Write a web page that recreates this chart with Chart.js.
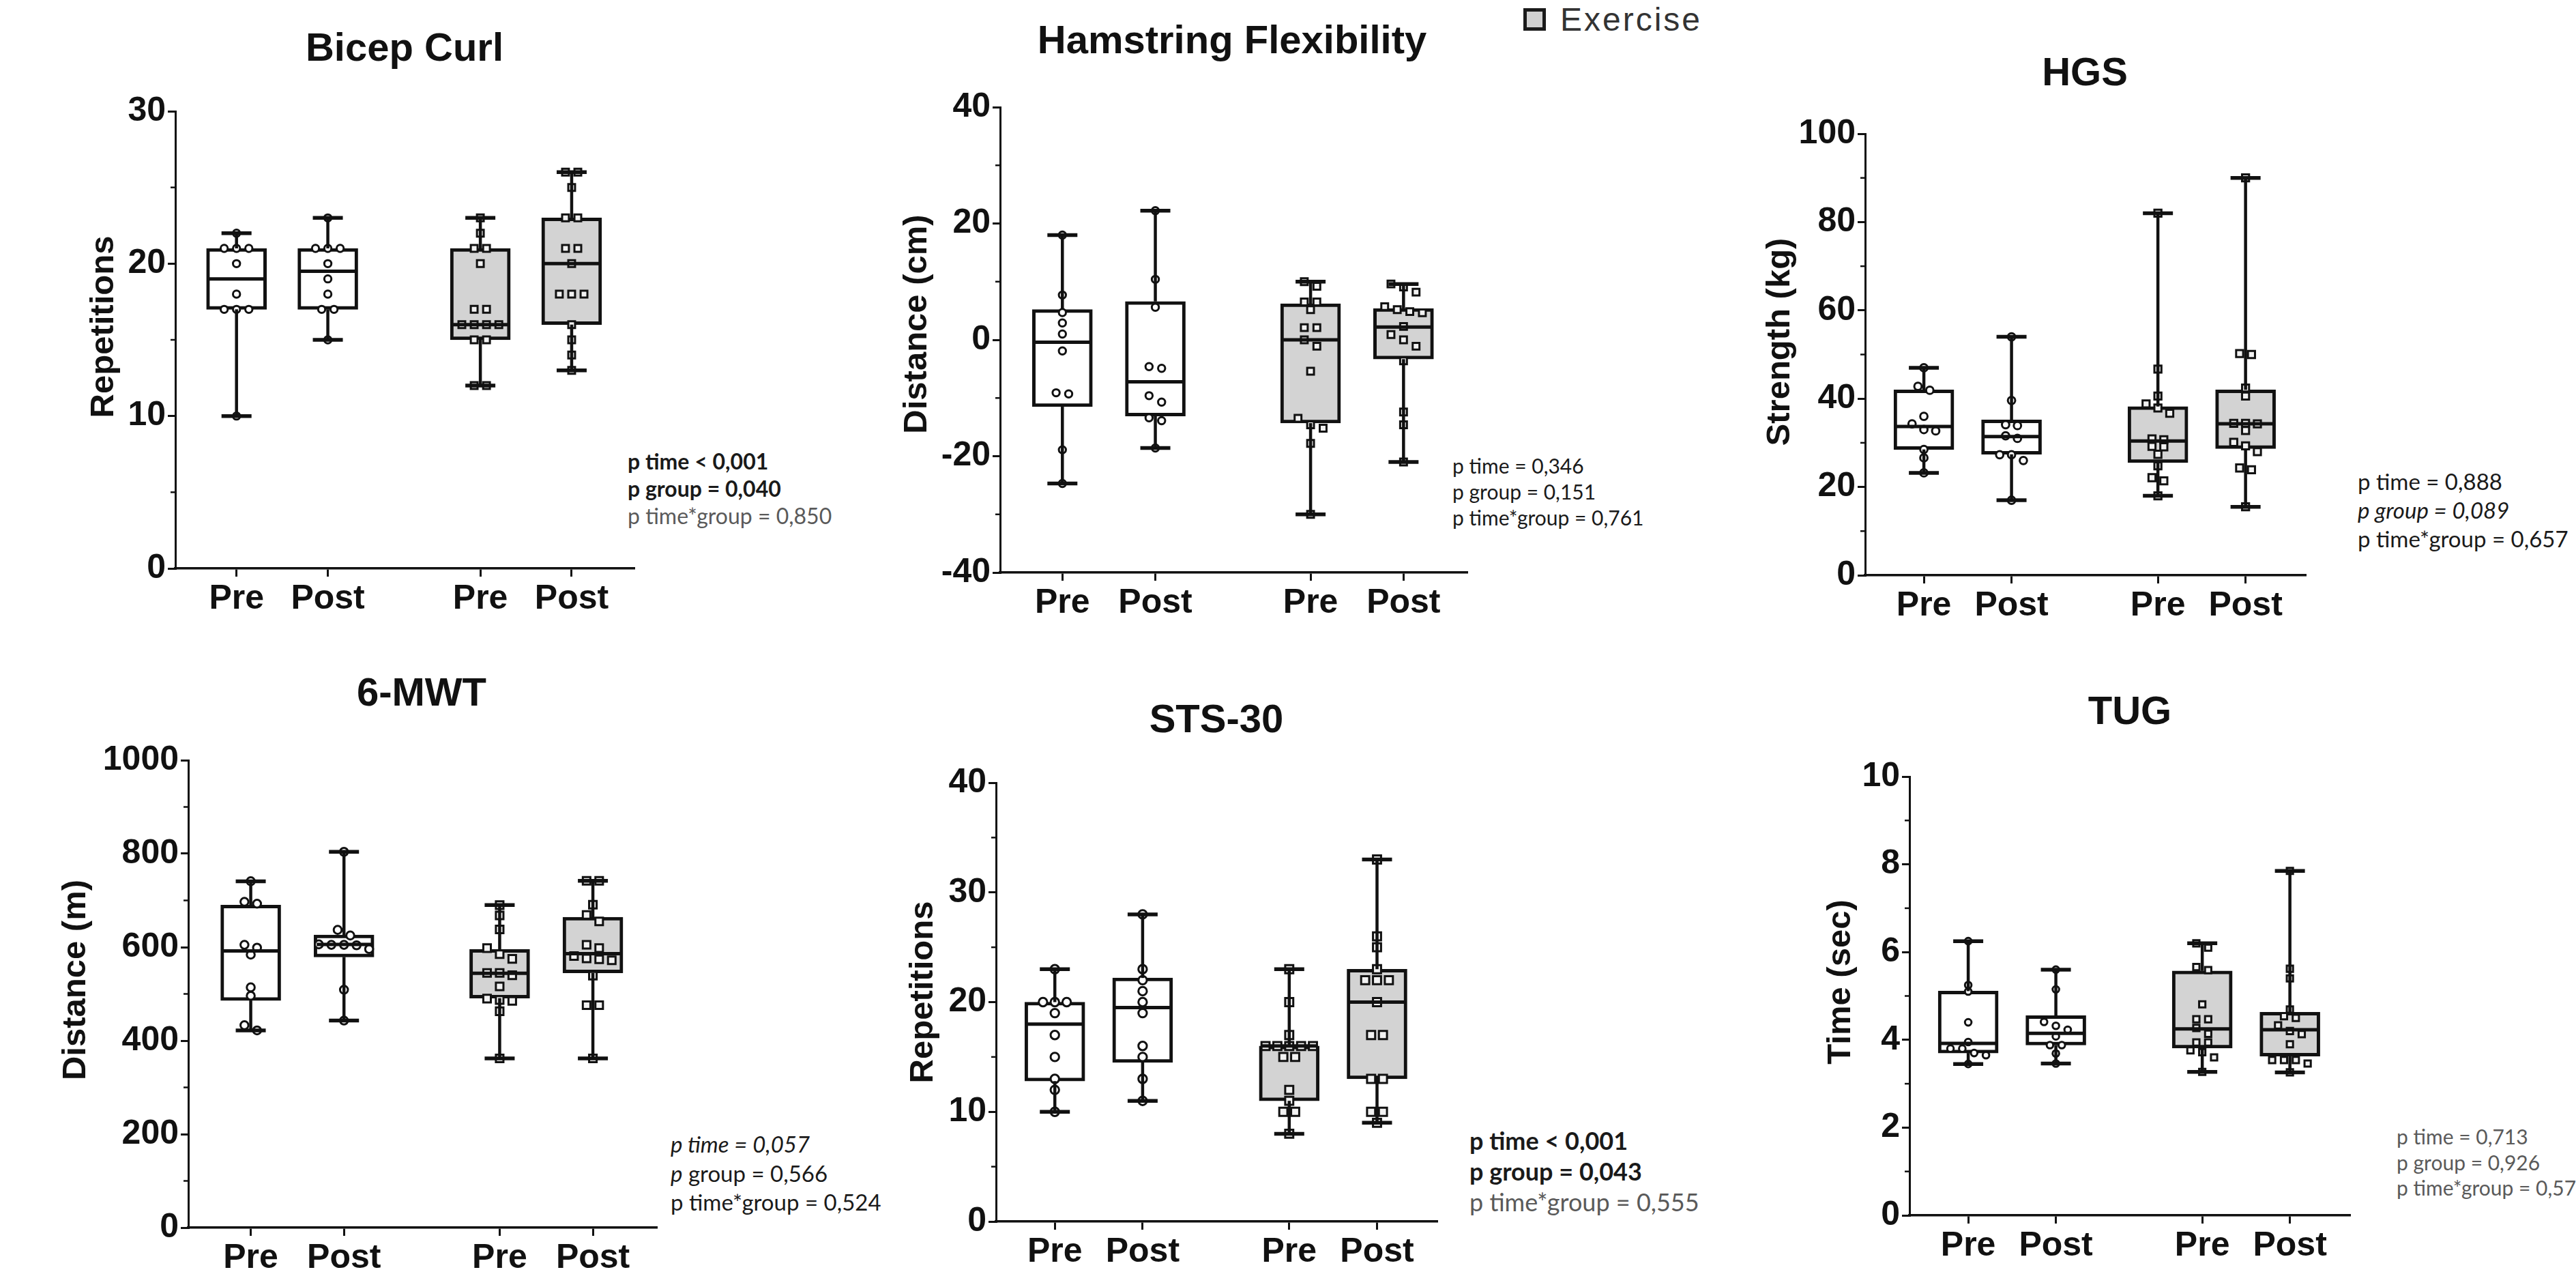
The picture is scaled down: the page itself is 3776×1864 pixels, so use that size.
<!DOCTYPE html>
<html>
<head>
<meta charset="utf-8">
<script src="https://cdn.jsdelivr.net/npm/chart.js@4.4.1/dist/chart.umd.min.js"></script>
<style>
  html, body { margin: 0; padding: 0; background: #fff; }
  body { width: 3776px; height: 1864px; position: relative; overflow: hidden; }
  canvas { position: absolute; }
  .title { position: absolute; font: bold 58px "Liberation Sans", Arial, sans-serif; color: #111;
           transform: translate(-50%, -50%); white-space: nowrap; }
  .ytitle { position: absolute; font: bold 49px "Liberation Sans", Arial, sans-serif; color: #111;
            transform: translate(-50%, -50%) rotate(-90deg); white-space: nowrap; }
  .stats { position: absolute; font-family: Lato, "Open Sans", sans-serif; color: #1a1a1a; white-space: nowrap; }
  .stats .b { font-weight: bold; }
  .stats .g { color: #5a5a5a; }
  .stats .i { font-style: italic; }
  #legend-box { position: absolute; left: 2233px; top: 12px; width: 33px; height: 33px; box-sizing: border-box;
                border: 5px solid #1a1a1a; background: #d0d0d0; }
  #legend-text { position: absolute; left: 2287px; top: 28px; transform: translateY(-50%);
                 font: 48px "Liberation Sans", Arial, sans-serif; letter-spacing: 3px; color: #333; }
</style>
</head>
<body>

<div id="legend-box"></div>
<div id="legend-text">Exercise</div>

<div class="title" style="left:593px;top:68px">Bicep Curl</div>
<div class="title" style="left:1806px;top:57px">Hamstring Flexibility</div>
<div class="title" style="left:3056px;top:104px">HGS</div>
<div class="title" style="left:618px;top:1013px">6-MWT</div>
<div class="title" style="left:1783px;top:1052px">STS-30</div>
<div class="title" style="left:3122px;top:1040px">TUG</div>

<div class="ytitle" style="left:149px;top:479px">Repetitions</div>
<div class="ytitle" style="left:1341px;top:475px">Distance (cm)</div>
<div class="ytitle" style="left:2606px;top:501px">Strength (kg)</div>
<div class="ytitle" style="left:108px;top:1436px">Distance (m)</div>
<div class="ytitle" style="left:1350px;top:1454px">Repetitions</div>
<div class="ytitle" style="left:2695px;top:1439px">Time (sec)</div>

<div class="stats" style="left:920px;top:656px;font-size:32px;line-height:40px">
  <div class="b">p time &lt; 0,001</div><div class="b">p group = 0,040</div><div class="g">p time*group = 0,850</div>
</div>
<div class="stats" style="left:2129px;top:663px;font-size:30px;line-height:38px">
  <div>p time = 0,346</div><div>p group = 0,151</div><div>p time*group = 0,761</div>
</div>
<div class="stats" style="left:3456px;top:684px;font-size:33px;line-height:42px">
  <div>p time = 0,888</div><div class="i">p group = 0,089</div><div>p time*group = 0,657</div>
</div>
<div class="stats" style="left:983px;top:1655px;font-size:33px;line-height:42.5px">
  <div class="i">p time = 0,057</div><div><span class="i">p</span> group = 0,566</div><div>p time*group = 0,524</div>
</div>
<div class="stats" style="left:2154px;top:1649px;font-size:36px;line-height:45px">
  <div class="b">p time &lt; 0,001</div><div class="b">p group = 0,043</div><div class="g">p time*group = 0,555</div>
</div>
<div class="stats" style="left:3513px;top:1647px;font-size:30px;line-height:37.5px">
  <div class="g">p time = 0,713</div><div class="g">p group = 0,926</div><div class="g">p time*group = 0,57</div>
</div>

<script>
// groups along the x axis: Control Pre, Control Post, Exercise Pre, Exercise Post
const groupLabels = ["Pre", "Post", "Pre", "Post"];

// Bicep Curl (repetitions)
const bicepDots = [
    [22, 21, 21, 21, 20, 18, 17, 17, 17, 10],
    [23, 21, 21, 21, 20, 19, 18, 17, 17, 15],
    [23, 22, 21, 21, 20, 17, 17, 16, 16, 16, 16, 15, 15, 12, 12],
    [26, 26, 25, 23, 23, 21, 21, 20, 18, 18, 18, 16, 15, 14, 13],
];
const bicepQ1 = [17, 17, 15, 16];
const bicepMedian = [19, 19.5, 16, 20];
const bicepQ3 = [21, 21, 21, 23];
const bicepYTicks = [0, 30, 10, 5]; // min, max, major step, minor step

// Hamstring flexibility (cm)
const hamstringDots = [
    [18, 7.7, 4.7, 2.9, 1.0, -1.9, -9.1, -9.3, -18.9, -24.7],
    [22.2, 10.4, 5.6, -4.6, -4.9, -9.6, -10.7, -13.4, -13.9, -18.6],
    [10.0, 9.2, 6.5, 6.5, 5.2, 2.1, 2.1, 0, -1.1, -5.4, -13.5, -14.6, -15.2, -17.8, -30],
    [9.6, 9.1, 8.2, 5.7, 5.2, 4.85, 4.65, 2.3, 0.9, 0, -1.1, -3.6, -12.4, -14.6, -21],
];
const hamstringQ1 = [-11.5, -13.1, -14.3, -3.3];
const hamstringMedian = [-0.4, -7.2, 0, 2.2];
const hamstringQ3 = [5.2, 6.6, 6.2, 5.4];
const hamstringYTicks = [-40, 40, 20, 10];

// HGS (kg)
const hgsDots = [
    [47, 42.8, 41.9, 36.0, 34.3, 33.0, 32.7, 28.5, 26.6, 23.2],
    [54, 39.6, 34.1, 33.9, 31.6, 31.0, 27.3, 27.3, 26.0, 17],
    [82, 46.7, 40.6, 38.8, 37.9, 36.7, 30.9, 30.7, 29.2, 29.1, 27.4, 24.8, 22.1, 21.4, 18],
    [90, 50.2, 50.0, 42.4, 40.6, 34.4, 34.4, 34.3, 32.8, 30.1, 29.3, 28.0, 24.3, 23.9, 15.5],
];
const hgsQ1 = [28.5, 27.4, 25.5, 28.7];
const hgsMedian = [33.7, 31.4, 30.4, 34.3];
const hgsQ3 = [42, 35.2, 38.2, 42];
const hgsYTicks = [0, 100, 20, 10];

// 6-MWT (m)
const mwtDots = [
    [741, 697, 693, 605, 599, 584, 514, 496, 433, 422],
    [804, 637, 625, 606, 605, 605, 604, 596, 509, 443],
    [690, 668, 638, 598, 585, 575, 545, 545, 540, 516, 490, 487, 485, 463, 362],
    [742, 742, 691, 669, 655, 605, 598, 581, 576, 574, 572, 539, 476, 476, 362],
];
const mwtQ1 = [486, 579, 491, 545];
const mwtMedian = [592, 606, 544, 586];
const mwtQ3 = [690, 626, 595, 664];
const mwtYTicks = [0, 1000, 200, 100];

// STS-30 (repetitions)
const stsDots = [
    [23, 20, 20, 20, 19, 17, 15, 13, 12, 10],
    [28, 23, 22, 21, 20, 19, 16, 15, 13, 11],
    [23, 20, 17, 16, 16, 16, 16, 16, 15, 15, 12, 11, 10, 10, 8],
    [33, 26, 25, 23, 22, 22, 22, 20, 17, 17, 13, 13, 10, 10, 9],
];
const stsQ1 = [12.8, 14.5, 11, 13];
const stsMedian = [18, 19.5, 16, 20];
const stsQ3 = [20, 22.2, 16, 23];
const stsYTicks = [0, 40, 10, 5];

// TUG (sec)
const tugDots = [
    [6.25, 5.25, 5.1, 4.4, 3.95, 3.8, 3.8, 3.7, 3.65, 3.45],
    [5.6, 5.15, 4.41, 4.32, 4.23, 4.08, 3.88, 3.88, 3.69, 3.46],
    [6.2, 6.1, 5.66, 5.59, 4.81, 4.47, 4.47, 4.27, 4.14, 3.94, 3.94, 3.76, 3.72, 3.6, 3.27],
    [7.85, 5.62, 5.4, 4.69, 4.54, 4.5, 4.33, 4.2, 4.13, 3.9, 3.54, 3.54, 3.54, 3.46, 3.26],
];
const tugQ1 = [3.70, 3.88, 3.81, 3.63];
const tugMedian = [3.92, 4.15, 4.25, 4.23];
const tugQ3 = [5.11, 4.55, 5.57, 4.63];
const tugYTicks = [0, 10, 2, 1];

// layout: where each group sits on the x axis, and the plot frame of each panel
const groupPos = [1, 2, 3.67, 4.67];
const xRange = [0.33, 5.35];
const ink = "#111";
const exerciseFill = "#d3d3d3";

const panels = [
    { dots: bicepDots, q1: bicepQ1, med: bicepMedian, q3: bicepQ3, yt: bicepYTicks, frame: [257, 163, 929, 833], r: 5.2 },
    { dots: hamstringDots, q1: hamstringQ1, med: hamstringMedian, q3: hamstringQ3, yt: hamstringYTicks, frame: [1466, 157, 2150, 839], r: 5.2 },
    { dots: hgsDots, q1: hgsQ1, med: hgsMedian, q3: hgsQ3, yt: hgsYTicks, frame: [2734, 196, 3379, 843], r: 5.4 },
    { dots: mwtDots, q1: mwtQ1, med: mwtMedian, q3: mwtQ3, yt: mwtYTicks, frame: [276, 1114, 962, 1799], r: 5.8 },
    { dots: stsDots, q1: stsQ1, med: stsMedian, q3: stsQ3, yt: stsYTicks, frame: [1460, 1147, 2106, 1790], r: 6.2 },
    { dots: tugDots, q1: tugQ1, med: tugMedian, q3: tugQ3, yt: tugYTicks, frame: [2799, 1138, 3444, 1781], r: 4.8 },
];

// spread near-equal values sideways, like a scatter dot plot
function spread(values, tol, step) {
    const order = values.map((v, i) => i).sort((a, b) => values[b] - values[a]);
    const off = new Array(values.length).fill(0);
    let cluster = [];
    const flush = () => {
        cluster.forEach((k, j) => { off[k] = (j - (cluster.length - 1) / 2) * step; });
        cluster = [];
    };
    order.forEach((k) => {
        if (cluster.length && Math.abs(values[cluster[cluster.length - 1]] - values[k]) > tol) flush();
        cluster.push(k);
    });
    flush();
    return off;
}

function line(ctx, x1, y1, x2, y2) {
    ctx.beginPath();
    ctx.moveTo(x1, y1);
    ctx.lineTo(x2, y2);
    ctx.stroke();
}

// whiskers, caps, medians and the minor y ticks
function boxPlot(p) {
    return {
        id: "boxPlot",
        afterDatasetsDraw(chart) {
            const ctx = chart.ctx;
            const xs = chart.scales.x;
            const ys = chart.scales.y;
            ctx.save();
            ctx.strokeStyle = ink;
            p.dots.forEach((vals, i) => {
                const cx = xs.getPixelForValue(groupPos[i]);
                const hi = ys.getPixelForValue(Math.max(...vals));
                const lo = ys.getPixelForValue(Math.min(...vals));
                ctx.lineWidth = 4.5;
                line(ctx, cx, ys.getPixelForValue(p.q3[i]), cx, hi);
                line(ctx, cx, ys.getPixelForValue(p.q1[i]), cx, lo);
                ctx.lineWidth = 5.5;
                line(ctx, cx - 22, hi, cx + 22, hi);
                line(ctx, cx - 22, lo, cx + 22, lo);
                ctx.lineWidth = 5;
                const ym = ys.getPixelForValue(p.med[i]);
                line(ctx, cx - 40, ym, cx + 40, ym);
            });
            const [min, max, major, minor] = p.yt;
            const left = chart.chartArea.left;
            ctx.lineWidth = 2.5;
            for (let v = min; v <= max; v += minor) {
                if (v % major !== 0) {
                    const py = ys.getPixelForValue(v);
                    line(ctx, left - 7, py, left, py);
                }
            }
            ctx.restore();
        },
    };
}

const tickFont = { family: "'Liberation Sans', Arial, sans-serif", weight: "bold", size: 50 };

panels.forEach((p) => {
    const [ax, top, right, bottom] = p.frame;
    const canvas = document.createElement("canvas");
    canvas.width = right - ax + 220;
    canvas.height = bottom - top + 130;
    canvas.style.left = ax - 200 + "px";
    canvas.style.top = top - 40 + "px";
    document.body.appendChild(canvas);

    const [min, max, major] = p.yt;
    const tol = (max - min) * 0.014;
    const pts = p.dots.map((vals, i) => {
        const off = spread(vals, tol, 0.135);
        return vals.map((v, k) => ({ x: groupPos[i] + off[k], y: v }));
    });

    new Chart(canvas, {
        type: "bar",
        data: {
            datasets: [
                {
                    type: "scatter",
                    data: pts[0].concat(pts[1]),
                    pointStyle: "circle",
                    pointRadius: p.r,
                    backgroundColor: "#fff",
                    borderColor: ink,
                    borderWidth: 3,
                    order: 0,
                },
                {
                    type: "scatter",
                    data: pts[2].concat(pts[3]),
                    pointStyle: "rect",
                    pointRadius: p.r * 1.35,
                    backgroundColor: "#f2f2f2",
                    borderColor: ink,
                    borderWidth: 3,
                    order: 0,
                },
                {
                    type: "bar",
                    data: groupPos.map((x, i) => ({ x: x, y: [p.q1[i], p.q3[i]] })),
                    backgroundColor: ["#fff", "#fff", exerciseFill, exerciseFill],
                    borderColor: ink,
                    borderWidth: 5,
                    borderSkipped: false,
                    barThickness: 88,
                    grouped: false,
                    order: 1,
                },
            ],
        },
        options: {
            responsive: false,
            animation: false,
            devicePixelRatio: 1,
            layout: { padding: { left: 0, top: 40, right: 20, bottom: 0 } },
            plugins: { legend: { display: false }, tooltip: { enabled: false } },
            scales: {
                x: {
                    type: "linear",
                    min: xRange[0],
                    max: xRange[1],
                    offset: false,
                    afterBuildTicks: (s) => { s.ticks = groupPos.map((v) => ({ value: v })); },
                    afterFit: (s) => { s.height = 90; s.paddingLeft = 0; s.paddingRight = 0; },
                    grid: { drawOnChartArea: false, offset: false, tickLength: 12, color: ink, lineWidth: 3 },
                    border: { color: ink, width: 3.5 },
                    ticks: {
                        autoSkip: false,
                        maxRotation: 0,
                        padding: 3,
                        color: ink,
                        font: tickFont,
                        callback: (v, i) => groupLabels[i],
                    },
                },
                y: {
                    type: "linear",
                    min: min,
                    max: max,
                    afterFit: (s) => { s.width = 200; s.paddingTop = 0; s.paddingBottom = 0; },
                    grid: { drawOnChartArea: false, tickLength: 11, color: ink, lineWidth: 3 },
                    border: { color: ink, width: 3 },
                    ticks: { stepSize: major, padding: 3, color: ink, font: tickFont, callback: (v) => String(v) },
                },
            },
        },
        plugins: [boxPlot(p)],
    });
});
</script>
</body>
</html>
